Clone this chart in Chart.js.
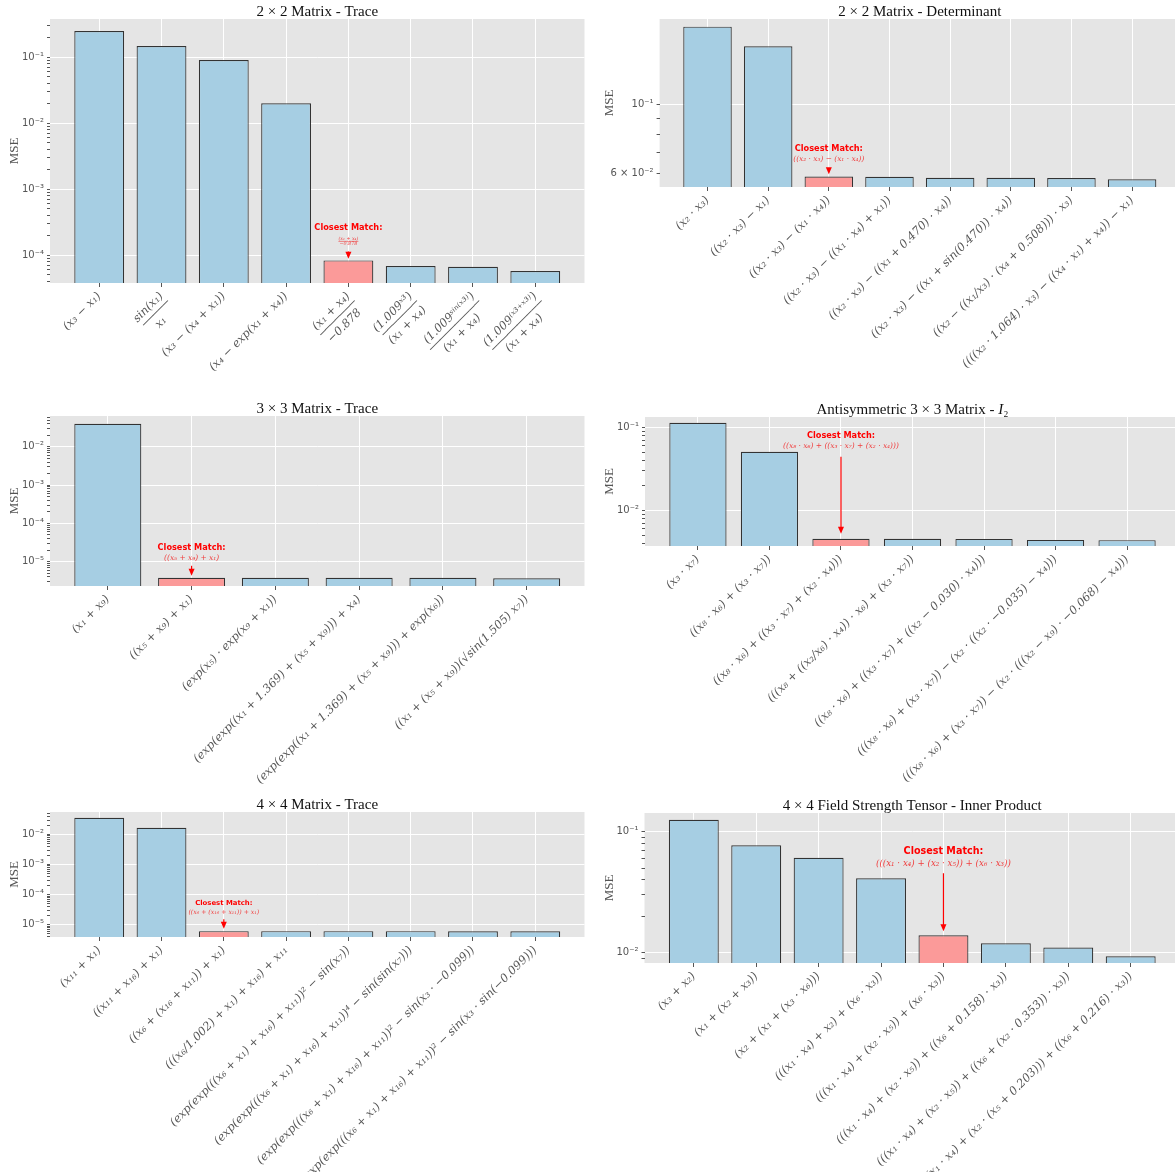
<!DOCTYPE html>
<html lang="en">
<head>
<meta charset="utf-8">
<title>MSE of candidate expressions</title>
<script src="https://cdn.jsdelivr.net/npm/chart.js@4.4.1/dist/chart.umd.min.js"></script>
<style>
  html, body { margin: 0; padding: 0; background: #ffffff; }
  body { position: relative; width: 1175px; height: 1172px; overflow: hidden; }
  canvas { position: absolute; }
</style>
</head>
<body>
<script>
// ---------------- data ----------------
// 2×2 matrix – trace  (a two-item entry is a fraction: [numerator, denominator])
const trace2Labels = ['(x₃ − x₁)', ['sin(x₁)', 'x₁'], '(x₃ − (x₄ + x₁))', '(x₄ − exp(x₁ + x₄))',
  ['(x₁ + x₄)', '−0.878'], ['(1.009ˣ³)', '(x₁ + x₄)'], ['(1.009ˢⁱⁿ⁽ˣ³⁾)', '(x₁ + x₄)'], ['(1.009⁽ˣ³⁺ˣ³⁾)', '(x₁ + x₄)']];
const trace2Mse = [0.248, 0.147, 0.090, 0.0199, 8.3e-5, 6.8e-5, 6.65e-5, 5.73e-5];
const trace2Best = 4;
const trace2BestExpr = ['(x₁ + x₄)', '−0.878'];

// 2×2 matrix – determinant
const det2Labels = ['(x₂ · x₃)', '((x₂ · x₃) − x₁)', '((x₂ · x₃) − (x₁ · x₄))', '((x₂ · x₃) − ((x₁ · x₄) + x₁))',
  '((x₂ · x₃) − ((x₁ + 0.470) · x₄))', '((x₂ · x₃) − ((x₁ + sin(0.470)) · x₄))',
  '((x₂ − ((x₁/x₃) · (x₄ + 0.508))) · x₃)', '((((x₂ · 1.064) · x₃) − ((x₄ · x₁) + x₄)) − x₁)'];
const det2Mse = [0.1795, 0.155, 0.0585, 0.0584, 0.0580, 0.0580, 0.0579, 0.0573];
const det2Best = 2;
const det2BestExpr = '((x₂ · x₃) − (x₁ · x₄))';

// 3×3 matrix – trace
const trace3Labels = ['(x₁ + x₉)', '((x₅ + x₉) + x₁)', '(exp(x₅) · exp(x₉ + x₁))',
  '(exp(exp((x₁ + 1.369) + (x₅ + x₉))) + x₄)', '(exp(exp((x₁ + 1.369) + (x₅ + x₉))) + exp(x₆))',
  '((x₁ + (x₅ + x₉))(√sin(1.505) x₇))'];
const trace3Mse = [0.0403, 3.77e-6, 3.76e-6, 3.76e-6, 3.75e-6, 3.66e-6];
const trace3Best = 1;
const trace3BestExpr = '((x₅ + x₉) + x₁)';

// antisymmetric 3×3 matrix – I₂
const anti3Labels = ['(x₃ · x₇)', '((x₈ · x₆) + (x₃ · x₇))', '((x₈ · x₆) + ((x₃ · x₇) + (x₂ · x₄)))',
  '(((x₈ + ((x₂/x₆) · x₄)) · x₆) + (x₃ · x₇))', '((x₈ · x₆) + ((x₃ · x₇) + ((x₂ − 0.030) · x₄)))',
  '(((x₈ · x₆) + (x₃ · x₇)) − (x₂ · ((x₂ · −0.035) − x₄)))',
  '(((x₈ · x₆) + (x₃ · x₇)) − (x₂ · (((x₂ − x₉) · −0.068) − x₄)))'];
const anti3Mse = [0.1137, 0.0508, 0.00452, 0.00452, 0.00451, 0.00439, 0.00436];
const anti3Best = 2;
const anti3BestExpr = '((x₈ · x₆) + ((x₃ · x₇) + (x₂ · x₄)))';

// 4×4 matrix – trace
const trace4Labels = ['(x₁₁ + x₁)', '((x₁₁ + x₁₆) + x₁)', '((x₆ + (x₁₆ + x₁₁)) + x₁)',
  '(((x₆/1.002) + x₁) + x₁₆) + x₁₁', '(exp(exp(((x₆ + x₁) + x₁₆) + x₁₁))² − sin(x₇))',
  '(exp(exp(((x₆ + x₁) + x₁₆) + x₁₁))⁴ − sin(sin(x₇)))',
  '(exp(exp(((x₆ + x₁) + x₁₆) + x₁₁))² − sin(x₃ · −0.099))',
  '(exp(exp(((x₆ + x₁) + x₁₆) + x₁₁))² − sin(x₃ · sin(−0.099)))'];
const trace4Mse = [0.0361, 0.0167, 6.14e-6, 6.12e-6, 6.12e-6, 6.12e-6, 6.06e-6, 6.05e-6];
const trace4Best = 2;
const trace4BestExpr = '((x₆ + (x₁₆ + x₁₁)) + x₁)';

// 4×4 field strength tensor – inner product
const field4Labels = ['(x₃ + x₂)', '(x₁ + (x₂ + x₃))', '(x₂ + (x₁ + (x₃ · x₆)))', '(((x₁ · x₄) + x₂) + (x₆ · x₃))',
  '(((x₁ · x₄) + (x₂ · x₅)) + (x₆ · x₃))', '(((x₁ · x₄) + (x₂ · x₅)) + ((x₆ + 0.158) · x₃))',
  '(((x₁ · x₄) + (x₂ · x₅)) + ((x₆ + (x₂ · 0.353)) · x₃))',
  '(((x₁ · x₄) + (x₂ · (x₅ + 0.203))) + ((x₆ + 0.216) · x₃))'];
const field4Mse = [0.1247, 0.0768, 0.0608, 0.0412, 0.01397, 0.0120, 0.01106, 0.00939];
const field4Best = 4;
const field4BestExpr = '(((x₁ · x₄) + (x₂ · x₅)) + (x₆ · x₃))';

// ---------------- style ----------------
const BAR_BLUE = '#a6cee3';
const BAR_RED = '#fb9a99';
const PANEL_BG = '#e5e5e5';
const INK = '#555555';
const NOTE_RED = '#ff0000';
const PAGE_H = 1172;
const LABEL_FONT = { family: '"DejaVu Serif"', size: 11.5, style: 'italic', lineHeight: 0.85 };
const LABEL_FONT_CSS = 'italic 11.5px "DejaVu Serif"';

const panels = [
  { title: [{ t: '2 × 2 Matrix - Trace' }], labels: trace2Labels, values: trace2Mse, best: trace2Best, expr: trace2BestExpr,
    box: { x: 0, y: 0, w: 590 }, plot: { l: 50, r: 584.5, t: 19, b: 283 }, mseX: 15,
    note: { gap: 1.6, len: 7.4, exprDy: 10, titleDy: 23.6, titleSize: 8.2, exprWidth: 20 } },
  { title: [{ t: '2 × 2 Matrix - Determinant' }], labels: det2Labels, values: det2Mse, best: det2Best, expr: det2BestExpr,
    box: { x: 590, y: 0, w: 600 }, plot: { l: 659.6, r: 1180, t: 19, b: 187 }, mseX: 20,
    note: { gap: 2.4, len: 7, exprDy: 7.7, titleDy: 18.4, titleSize: 8.2, exprWidth: 71 } },
  { title: [{ t: '3 × 3 Matrix - Trace' }], labels: trace3Labels, values: trace3Mse, best: trace3Best, expr: trace3BestExpr,
    box: { x: 0, y: 395, w: 590 }, plot: { l: 50, r: 584.5, t: 416, b: 586 }, mseX: 15,
    note: { gap: 2, len: 10, exprDy: 7.7, titleDy: 17.9, titleSize: 8.2, exprWidth: 55 } },
  { title: [{ t: 'Antisymmetric 3 × 3 Matrix - ' }, { t: 'I', it: true }, { t: '₂' }], labels: anti3Labels, values: anti3Mse,
    best: anti3Best, expr: anti3BestExpr,
    box: { x: 590, y: 395, w: 600 }, plot: { l: 645, r: 1180, t: 417, b: 546 }, mseX: 20,
    note: { gap: 5, len: 77, exprDy: 10.7, titleDy: 21.1, titleSize: 8.2, exprWidth: 116 } },
  { title: [{ t: '4 × 4 Matrix - Trace' }], labels: trace4Labels, values: trace4Mse, best: trace4Best, expr: trace4BestExpr,
    box: { x: 0, y: 790, w: 590 }, plot: { l: 50, r: 584.5, t: 812, b: 937 }, mseX: 15,
    note: { gap: 2.4, len: 9.4, exprDy: 6.7, titleDy: 15.7, titleSize: 6.9, exprWidth: 71 } },
  { title: [{ t: '4 × 4 Field Strength Tensor - Inner Product' }], labels: field4Labels, values: field4Mse,
    best: field4Best, expr: field4BestExpr,
    box: { x: 590, y: 790, w: 600 }, plot: { l: 644.5, r: 1180, t: 813, b: 963 }, mseX: 20,
    note: { gap: 4, len: 58, exprDy: 10, titleDy: 22, titleSize: 9.6, exprWidth: 135 } }
];

// ---------------- helpers ----------------
const SUP = { '0': '⁰', '1': '¹', '2': '²', '3': '³', '4': '⁴', '5': '⁵', '6': '⁶', '7': '⁷', '8': '⁸', '9': '⁹', '-': '⁻' };
const pow10Text = e => '10' + String(e).split('').map(c => SUP[c]).join('');
const measureCtx = document.createElement('canvas').getContext('2d');

function splitLog(v) {
  const e = Math.floor(Math.log10(v) + 1e-9);
  return { e, m: Math.round(v / Math.pow(10, e)) };
}

// log limits padded by 5 % of the (log) data span
function logLimits(values) {
  const lo = Math.log10(Math.min(...values));
  const hi = Math.log10(Math.max(...values));
  const pad = (hi - lo) * 0.05;
  return [Math.pow(10, lo - pad), Math.pow(10, hi + pad)];
}

function logTicks(min, max) {
  const out = [];
  for (let e = Math.floor(Math.log10(min)) - 1; e <= Math.ceil(Math.log10(max)); e++) {
    for (let m = 1; m <= 9; m++) {
      const v = m * Math.pow(10, e);
      if (v >= min && v <= max) out.push({ value: v, major: m === 1 });
    }
  }
  return out;
}

// a stacked fraction as three label lines: numerator, rule, denominator (centred via trailing spaces)
function fractionLines(num, den) {
  measureCtx.font = LABEL_FONT_CSS;
  const wn = measureCtx.measureText(num).width;
  const wd = measureCtx.measureText(den).width;
  const w = Math.max(wn, wd);
  const sp = measureCtx.measureText(' ').width;
  const pad = (s, ws) => s + ' '.repeat(Math.round((w - ws) / 2 / sp));
  const rule = '─'.repeat(Math.max(1, Math.round(w / measureCtx.measureText('─').width)));
  return [pad(num, wn), rule, pad(den, wd)];
}

function fitSize(ctx, text, target, family, style) {
  ctx.font = `${style} 10px ${family}`;
  return 10 * target / ctx.measureText(text).width;
}

function drawTitle(ctx, runs, cx, baseline) {
  const font = r => `${r.it ? 'italic ' : ''}15px "Liberation Serif"`;
  let total = 0;
  runs.forEach(r => { ctx.font = font(r); total += ctx.measureText(r.t).width; });
  let x = cx - total / 2;
  ctx.fillStyle = '#111111';
  ctx.textAlign = 'left';
  ctx.textBaseline = 'alphabetic';
  runs.forEach(r => { ctx.font = font(r); ctx.fillText(r.t, x, baseline); x += ctx.measureText(r.t).width; });
}

function drawArrow(ctx, x, yTail, yTip) {
  const head = Math.min(7, yTip - yTail), half = 3;
  ctx.strokeStyle = NOTE_RED;
  ctx.fillStyle = NOTE_RED;
  ctx.lineWidth = 1.2;
  if (yTip - head > yTail) {
    ctx.beginPath();
    ctx.moveTo(x, yTail);
    ctx.lineTo(x, yTip - head + 1);
    ctx.stroke();
  }
  ctx.beginPath();
  ctx.moveTo(x, yTip);
  ctx.lineTo(x - half, yTip - head);
  ctx.lineTo(x + half, yTip - head);
  ctx.closePath();
  ctx.fill();
}

// background, title, axis label and the "closest match" call-out
function decorations(p) {
  return {
    id: 'panelDecor',
    beforeDraw(chart) {
      const { ctx, chartArea: a } = chart;
      ctx.save();
      ctx.fillStyle = PANEL_BG;
      ctx.fillRect(a.left, a.top, a.right - a.left, a.bottom - a.top);
      ctx.restore();
    },
    afterDraw(chart) {
      const { ctx, chartArea: a } = chart;
      ctx.save();
      drawTitle(ctx, p.title, (a.left + a.right) / 2, a.top - 3.5);

      ctx.save();
      ctx.translate(p.mseX, (a.top + a.bottom) / 2);
      ctx.rotate(-Math.PI / 2);
      ctx.font = '13px "Liberation Serif"';
      ctx.fillStyle = INK;
      ctx.textAlign = 'center';
      ctx.textBaseline = 'middle';
      ctx.fillText('MSE', 0, 0);
      ctx.restore();

      const n = p.note;
      const x = chart.scales.x.getPixelForValue(p.best);
      const yTop = chart.scales.y.getPixelForValue(p.values[p.best]);
      const yTip = yTop - n.gap;
      const yTail = yTip - n.len;
      drawArrow(ctx, x, yTail, yTip);

      ctx.textAlign = 'center';
      ctx.textBaseline = 'middle';
      ctx.fillStyle = NOTE_RED;
      ctx.font = `bold ${n.titleSize}px "DejaVu Sans"`;
      ctx.fillText('Closest Match:', x, yTail - n.titleDy);

      ctx.fillStyle = '#f03c3c';
      const fam = '"DejaVu Serif"';
      if (Array.isArray(p.expr)) {
        const [num, den] = p.expr;
        const size = fitSize(ctx, num, n.exprWidth, fam, 'italic');
        ctx.font = `italic ${size}px ${fam}`;
        const lineY = yTail - n.exprDy;
        const w = Math.max(ctx.measureText(num).width, ctx.measureText(den).width);
        ctx.fillText(num, x, lineY - size * 0.62);
        ctx.fillText(den, x, lineY + size * 0.55);
        ctx.strokeStyle = '#f03c3c';
        ctx.lineWidth = 0.6;
        ctx.beginPath();
        ctx.moveTo(x - w / 2, lineY);
        ctx.lineTo(x + w / 2, lineY);
        ctx.stroke();
      } else {
        const size = fitSize(ctx, p.expr, n.exprWidth, fam, 'italic');
        ctx.font = `italic ${size}px ${fam}`;
        ctx.fillText(p.expr, x, yTail - n.exprDy);
      }
      ctx.restore();
    }
  };
}

// ---------------- charts ----------------
function buildPanel(p) {
  // every canvas runs to the bottom of the page, so long rotated labels are never cut;
  // canvases are transparent and the panels below simply sit on top of them
  const h = PAGE_H - p.box.y;
  const canvas = document.createElement('canvas');
  canvas.width = p.box.w;
  canvas.height = h;
  canvas.style.left = p.box.x + 'px';
  canvas.style.top = p.box.y + 'px';
  canvas.style.width = p.box.w + 'px';
  canvas.style.height = h + 'px';
  document.body.appendChild(canvas);

  // the axes own everything left of / below the plot so their labels are never clipped
  const yAxisW = p.plot.l - p.box.x;
  const xAxisH = p.box.y + h - p.plot.b;

  const n = p.values.length;
  const xMargin = 0.05 * (n - 1 + 0.8);
  const [yMin, yMax] = logLimits(p.values);
  const decades = Math.log10(yMax / yMin);
  const minorLabelled = decades <= 1 ? [2, 3, 4, 6] : [];

  new Chart(canvas, {
    type: 'bar',
    data: {
      datasets: [{
        data: p.values.map((v, i) => ({ x: i, y: v })),
        backgroundColor: p.values.map((_, i) => (i === p.best ? BAR_RED : BAR_BLUE)),
        borderColor: '#333333',
        borderWidth: 1.2,
        barPercentage: 0.8,
        categoryPercentage: 1.0
      }]
    },
    options: {
      responsive: false,
      animation: false,
      events: [],
      layout: {
        autoPadding: false,
        padding: { left: 0, bottom: 0, right: p.box.x + p.box.w - p.plot.r, top: p.plot.t - p.box.y }
      },
      plugins: { legend: { display: false }, tooltip: { enabled: false }, title: { display: false } },
      scales: {
        x: {
          type: 'linear',
          offset: false,
          bounds: 'data',
          min: -0.4 - xMargin,
          max: n - 0.6 + xMargin,
          afterBuildTicks: s => { s.ticks = p.labels.map((_, i) => ({ value: i })); },
          afterFit: s => { s.height = xAxisH; s.paddingLeft = 0; s.paddingRight = 0; },
          border: { display: false },
          grid: { offset: false, color: '#ffffff', lineWidth: 1, tickColor: INK, tickLength: 4 },
          ticks: {
            autoSkip: false, minRotation: 45, maxRotation: 45, padding: 4,
            color: INK, font: LABEL_FONT,
            callback: v => {
              const l = p.labels[v];
              return Array.isArray(l) ? fractionLines(l[0], l[1]) : l;
            }
          }
        },
        y: {
          type: 'logarithmic',
          bounds: 'data',
          min: yMin,
          max: yMax,
          afterBuildTicks: s => { s.ticks = logTicks(yMin, yMax); },
          afterFit: s => { s.width = yAxisW; s.paddingTop = 0; s.paddingBottom = 0; },
          border: { display: false },
          grid: {
            color: c => (c.tick && splitLog(c.tick.value).m === 1 ? '#ffffff' : 'rgba(0,0,0,0)'),
            lineWidth: 1, tickColor: INK, tickLength: 3
          },
          ticks: {
            autoSkip: false, padding: 3, color: INK,
            font: { family: '"DejaVu Sans"', size: 10 },
            callback: v => {
              const { e, m } = splitLog(v);
              if (m === 1) return pow10Text(e);
              if (minorLabelled.includes(m)) return m + ' × ' + pow10Text(e);
              return '';
            }
          }
        }
      }
    },
    plugins: [decorations(p)]
  });
}

panels.forEach(buildPanel);
</script>
</body>
</html>
